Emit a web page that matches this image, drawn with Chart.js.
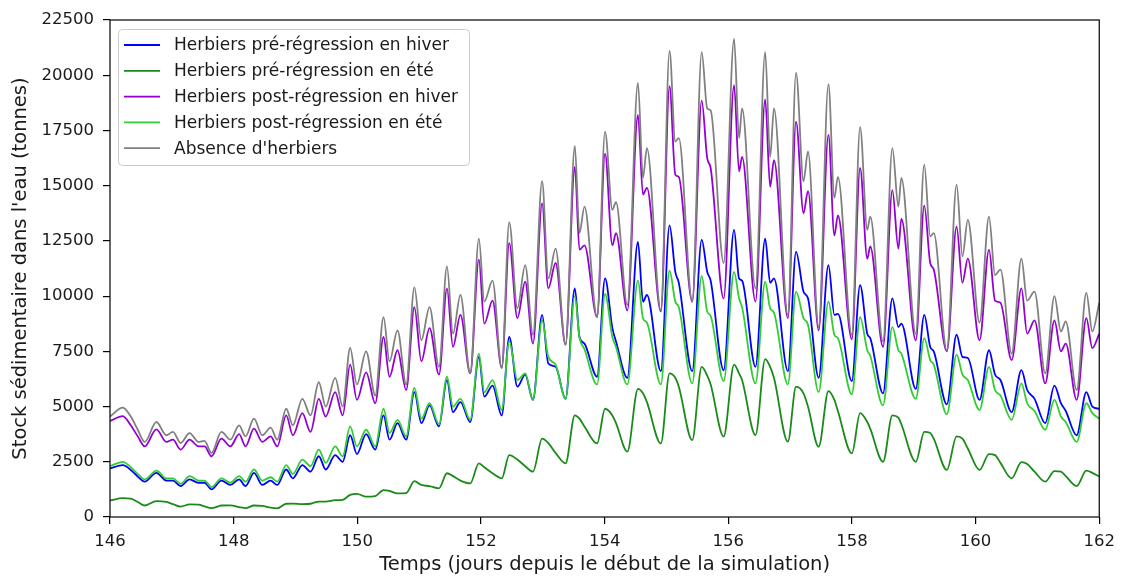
<!DOCTYPE html>
<html lang="fr">
<head>
<meta charset="utf-8">
<title>Stock sédimentaire</title>
<script src="https://cdn.jsdelivr.net/npm/chart.js@4.4.1/dist/chart.umd.min.js"></script>
<style>
  html, body { margin: 0; padding: 0; background: #fff; }
  #grafico { display: block; }
</style>
</head>
<body>
<canvas id="grafico" width="1123" height="577"></canvas>
<script>
/*******************************************************************************/
// Datos : temps en jours, stock en tonnes

const temps = [
    146.000,
    146.207, 146.336, 146.449, 146.562,
    146.750, 146.911, 147.018, 147.142,
    147.287, 147.432, 147.529, 147.641,
    147.802, 147.947, 148.088, 148.192,
    148.329, 148.463, 148.598, 148.705,
    148.850, 148.958, 149.111, 149.243,
    149.377, 149.489, 149.642, 149.763,
    149.884, 149.994, 150.142, 150.290,
    150.424, 150.521, 150.650, 150.790,
    150.923, 151.036, 151.168, 151.321,
    151.450, 151.547, 151.668, 151.826,
    151.966, 152.054, 152.187, 152.336,
    152.457, 152.589, 152.715, 152.841,
    152.989, 153.089, 153.207, 153.368,
    153.518, 153.593, 153.674, 153.878,
    154.007, 154.125, 154.184, 154.367,
    154.539, 154.620, 154.684, 154.910,
    155.050, 155.143, 155.200, 155.417,
    155.570, 155.659, 155.715, 155.925,
    156.094, 156.174, 156.223, 156.440,
    156.597, 156.677, 156.739, 156.964,
    157.096, 157.217, 157.289, 157.462,
    157.620, 157.716, 157.773, 157.998,
    158.132, 158.248, 158.296, 158.503,
    158.654, 158.751, 158.799, 159.033,
    159.170, 159.266, 159.323, 159.535,
    159.693, 159.787, 159.874, 160.064,
    160.217, 160.314, 160.402, 160.583,
    160.741, 160.834, 160.953, 161.126,
    161.275, 161.380, 161.458, 161.635,
    161.791, 161.888, 162.000
];

const preHiver = [
    2200,
    2350, 2130, 1830, 1600,
    2000, 1650, 1650, 1400,
    1700, 1550, 1550, 1250,
    1650, 1450, 1700, 1400,
    2000, 1450, 1650, 1450,
    2150, 1750, 2350, 2050,
    2750, 2150, 2800, 2500,
    3700, 2850, 3750, 3050,
    4600, 3500, 4250, 3500,
    5650, 4250, 5050, 4100,
    6200, 4750, 5200, 4300,
    7250, 5450, 5950, 4600,
    8150, 5900, 6450, 5300,
    9150, 6950, 6800, 5350,
    10350, 8150, 7850, 6350,
    10800, 8550, 7950, 6300,
    12450, 9750, 10050, 6600,
    13200, 11100, 10600, 6600,
    12550, 11100, 10700, 6650,
    13000, 10800, 10700, 6800,
    12600, 10600, 10800, 6600,
    12000, 10200, 9900, 6300,
    11400, 9150, 9200, 6150,
    10500, 8300, 8100, 5600,
    9900, 8600, 8750, 5800,
    9150, 7700, 7500, 5100,
    8250, 7250, 7200, 5300,
    7550, 6450, 6200, 4750,
    6650, 5750, 5350, 4250,
    5950, 5150, 4800, 3700,
    5650, 5000, 4900
];

const preEte = [
    750,
    850, 830, 680, 520,
    720, 680, 580, 470,
    570, 560, 480, 400,
    520, 530, 450, 400,
    520, 500, 420, 390,
    600, 610, 580, 600,
    700, 700, 760, 780,
    1000, 1050, 920, 950,
    1220, 1180, 1070, 1080,
    1620, 1450, 1400, 1300,
    1980, 1850, 1650, 1520,
    2430, 2250, 1980, 1750,
    2800, 2600, 2300, 2050,
    3550, 3350, 2900, 2430,
    4600, 4450, 4100, 3330,
    4900, 4600, 4250, 2960,
    5800, 5600, 5200, 3330,
    6500, 6300, 5900, 3480,
    6800, 6400, 6000, 3640,
    6900, 6500, 6200, 3710,
    7150, 6800, 6300, 3410,
    5900, 5600, 5000, 3180,
    5700, 5300, 4800, 2880,
    4700, 4300, 4000, 2500,
    4600, 4500, 4200, 2500,
    3850, 3800, 3550, 2130,
    3650, 3550, 3100, 2130,
    2850, 2800, 2450, 1750,
    2480, 2400, 2050, 1600,
    2080, 2050, 1850, 1400,
    2100, 2000, 1830
];

const postHiver = [
    4350,
    4570, 4150, 3650, 3200,
    3970, 3400, 3500, 3050,
    3500, 3200, 3200, 2750,
    3550, 3200, 3750, 3200,
    4000, 3400, 3650, 3200,
    4600, 3700, 4700, 3850,
    5350, 4550, 5650, 4600,
    6900, 5300, 6550, 5150,
    8150, 6350, 7550, 5750,
    9500, 7050, 8550, 6450,
    10350, 7700, 9150, 6500,
    11650, 8750, 9800, 6750,
    12400, 9000, 10650, 7850,
    14200, 10350, 11500, 7800,
    15850, 12100, 12300, 9050,
    16450, 12300, 12850, 9350,
    18200, 14600, 14900, 9300,
    19500, 15500, 15400, 9750,
    18850, 16250, 15800, 9900,
    19550, 15650, 16300, 9750,
    18900, 14950, 16150, 9000,
    17900, 13750, 14750, 8450,
    17300, 12750, 13650, 8050,
    15800, 11700, 12250, 7700,
    14800, 12150, 13500, 8000,
    14100, 11500, 11200, 7500,
    13150, 10600, 11700, 8000,
    12100, 9800, 9700, 7100,
    10350, 8300, 8900, 6050,
    8900, 7500, 7850, 5300,
    9000, 7650, 8300
];

const postEte = [
    2300,
    2500, 2250, 1950, 1700,
    2100, 1750, 1750, 1500,
    1850, 1650, 1650, 1350,
    1750, 1550, 1850, 1600,
    2150, 1650, 1800, 1600,
    2350, 1950, 2600, 2300,
    3050, 2450, 3200, 2750,
    4100, 3200, 3950, 3200,
    4900, 3800, 4400, 3650,
    5850, 4450, 5150, 4200,
    6350, 5000, 5350, 4400,
    7400, 5650, 6200, 4850,
    7950, 6200, 6500, 5300,
    8900, 7250, 6900, 5350,
    10000, 8150, 7600, 6000,
    10100, 8150, 7700, 6000,
    10700, 9000, 8800, 6000,
    11150, 9750, 9500, 6050,
    10900, 9300, 9100, 6150,
    11100, 9900, 9500, 6050,
    10650, 9450, 9250, 6000,
    10200, 9000, 8700, 5650,
    9750, 8250, 8100, 5550,
    9050, 7550, 7300, 5050,
    8600, 7550, 7400, 5350,
    8100, 7100, 6900, 4650,
    7350, 6450, 6200, 4850,
    6800, 5750, 5500, 4400,
    6050, 5150, 4800, 3950,
    5300, 4550, 4300, 3400,
    5150, 4700, 4450
];

const absence = [
    4550,
    4950, 4550, 3950, 3400,
    4300, 3700, 3850, 3350,
    3800, 3400, 3450, 2900,
    3850, 3500, 4150, 3650,
    4450, 3700, 4050, 3500,
    4900, 4150, 5350, 4600,
    6100, 5000, 6300, 5000,
    7650, 6000, 7500, 5500,
    9050, 7050, 8450, 6000,
    10400, 8000, 9500, 6800,
    11350, 8300, 10050, 6500,
    12600, 9750, 10700, 6750,
    13350, 9450, 11400, 8250,
    15200, 10800, 12150, 7800,
    16800, 12850, 14050, 9050,
    17450, 13900, 14250, 9600,
    19650, 15350, 16700, 9350,
    21100, 17000, 17150, 9750,
    21050, 18500, 18400, 11500,
    21650, 17150, 18500, 10350,
    21050, 16300, 18500, 9150,
    20100, 15200, 16550, 8600,
    19600, 14450, 15400, 8250,
    17650, 13000, 13600, 7950,
    16700, 14050, 15350, 8300,
    15950, 12700, 12850, 7550,
    15050, 11800, 13450, 8800,
    13600, 10950, 11200, 7400,
    11700, 9800, 10200, 6500,
    10000, 8400, 8850, 5750,
    10150, 8400, 9700
];

const ticksX = [146, 148, 150, 152, 154, 156, 158, 160, 162];
const ticksY = [0, 2500, 5000, 7500, 10000, 12500, 15000, 17500, 20000, 22500];

/*******************************************************************************/
// Series

function serie(valores) {
    return temps.map((t, i) => ({ x: t, y: valores[i] }));
}

const series = [
    { label: "Herbiers pré-régression en hiver", valores: preHiver, color: "#0000ff" },
    { label: "Herbiers pré-régression en été", valores: preEte, color: "#1a8a1a" },
    { label: "Herbiers post-régression en hiver", valores: postHiver, color: "#9400d3" },
    { label: "Herbiers post-régression en été", valores: postEte, color: "#32cd32" },
    { label: "Absence d'herbiers", valores: absence, color: "#808080" }
];

/*******************************************************************************/
// Leyenda y marco

const leyendaPlugin = {
    id: "leyenda",
    afterDraw(chart) {
        const ctx = chart.ctx;
        const area = chart.chartArea;
        const x0 = area.left + 8;
        const y0 = area.top + 9;
        ctx.save();
        ctx.fillStyle = "rgba(255,255,255,0.85)";
        ctx.strokeStyle = "#cccccc";
        ctx.lineWidth = 1;
        ctx.beginPath();
        ctx.roundRect(x0 + 0.5, y0 + 0.5, 351, 136, 4);
        ctx.fill();
        ctx.stroke();
        ctx.font = "17px 'DejaVu Sans'";
        ctx.textBaseline = "middle";
        chart.data.datasets.forEach((ds, i) => {
            const y = y0 + 16 + i * 25.8;
            ctx.strokeStyle = ds.borderColor;
            ctx.lineWidth = 1.8;
            ctx.beginPath();
            ctx.moveTo(x0 + 6, y);
            ctx.lineTo(x0 + 42, y);
            ctx.stroke();
            ctx.fillStyle = "#1a1a1a";
            ctx.fillText(ds.label, x0 + 56, y + 1);
        });
        ctx.restore();
    }
};

const marcoPlugin = {
    id: "marco",
    afterDatasetsDraw(chart) {
        const ctx = chart.ctx;
        const a = chart.chartArea;
        ctx.save();
        ctx.strokeStyle = "#000";
        ctx.lineWidth = 1.2;
        ctx.strokeRect(a.left, a.top, a.right - a.left, a.bottom - a.top);
        ctx.restore();
    }
};

/*******************************************************************************/
// Grafico

Chart.defaults.font.family = "'DejaVu Sans', sans-serif";
Chart.defaults.color = "#1a1a1a";

const ctx = document.getElementById("grafico").getContext("2d");
new Chart(ctx, {
    type: "line",
    data: {
        datasets: series.map((s, i) => ({
            label: s.label,
            data: serie(s.valores),
            borderColor: s.color,
            backgroundColor: s.color,
            borderWidth: 1.8,
            pointRadius: 0,
            cubicInterpolationMode: "monotone",
            fill: false,
            order: series.length - i
        }))
    },
    options: {
        responsive: false,
        animation: false,
        devicePixelRatio: 1,
        layout: { padding: { left: 0, right: 19, top: 20, bottom: 0 } },
        plugins: {
            legend: { display: false },
            tooltip: { enabled: false }
        },
        scales: {
            x: {
                type: "linear",
                min: 146,
                max: 162,
                afterBuildTicks: (scale) => { scale.ticks = ticksX.map((v) => ({ value: v })); },
                afterFit: (scale) => { scale.height = 60; },
                border: { display: false },
                grid: { drawOnChartArea: false, drawTicks: true, tickLength: 7, color: "#000", lineWidth: 1.2 },
                ticks: { font: { size: 16.5 }, padding: 8, maxRotation: 0 },
                title: {
                    display: true,
                    text: "Temps (jours depuis le début de la simulation)",
                    font: { size: 19.5 },
                    padding: { top: 0, bottom: 0 }
                }
            },
            y: {
                min: 0,
                max: 22500,
                afterBuildTicks: (scale) => { scale.ticks = ticksY.map((v) => ({ value: v })); },
                afterFit: (scale) => { scale.width = 110; },
                border: { display: false },
                grid: { drawOnChartArea: false, drawTicks: true, tickLength: 7, color: "#000", lineWidth: 1.2 },
                ticks: { font: { size: 16.5 }, padding: 9, callback: (v) => String(v) },
                title: {
                    display: true,
                    text: "Stock sédimentaire dans l'eau (tonnes)",
                    font: { size: 19.5 },
                    padding: { top: 9, bottom: 0 }
                }
            }
        }
    },
    plugins: [leyendaPlugin, marcoPlugin]
});
</script>
</body>
</html>
